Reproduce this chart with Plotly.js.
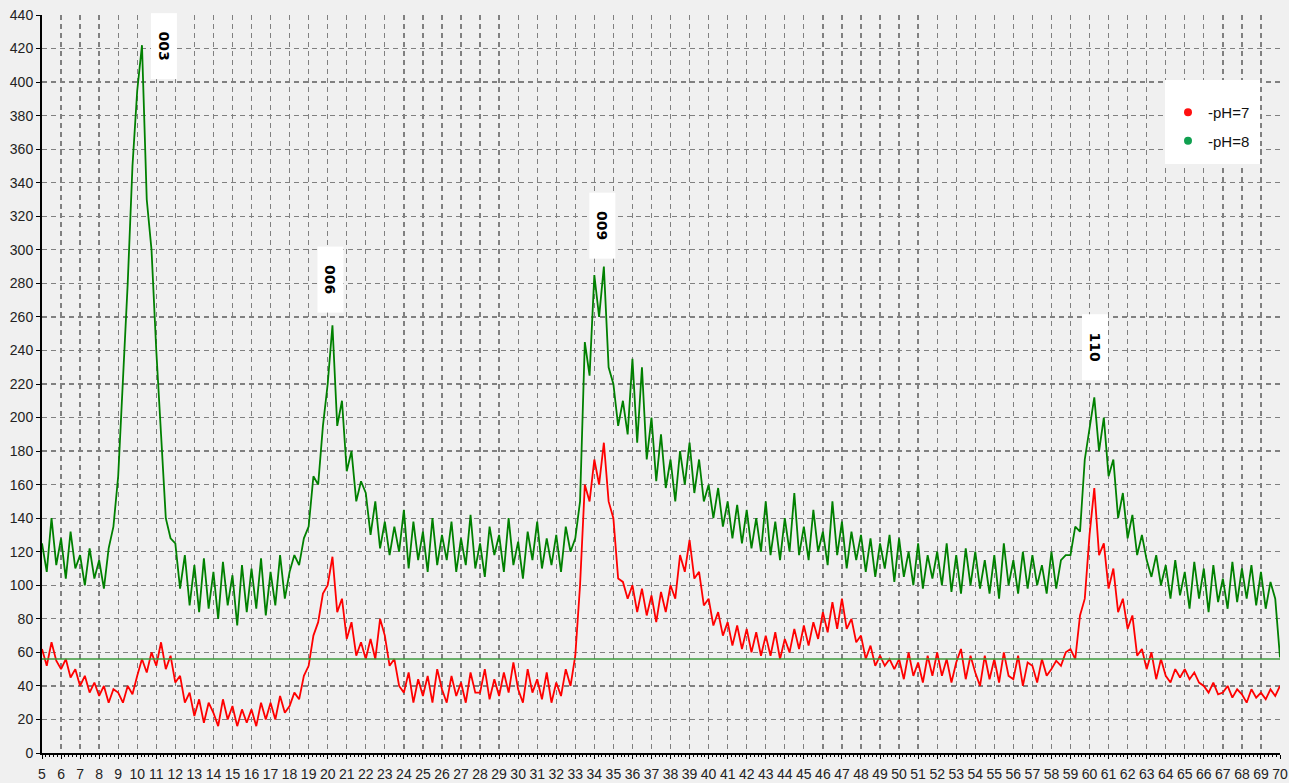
<!DOCTYPE html>
<html>
<head>
<meta charset="utf-8">
<script src="https://cdn.plot.ly/plotly-3.0.1.min.js"></script>
<style>html,body{margin:0;padding:0;background:#fff;}#chart{width:1289px;height:783px;}</style>
</head>
<body>
<div id="chart"></div>
<script>
// 2-theta sampling: 5.00 .. 70.00 in 0.25 degree steps
const thetaStart = 5, thetaStep = 0.25;

// pH=8 intensities (green)
const pH8 = [
125,108,140,112, 128,104,132,110, 118,100,122,104, 115,98,122,135,
165,220,280,350, 395,422,330,300, 240,190,140,128, 125,98,118,88,
112,84,116,86, 108,80,114,88, 106,76,112,84, 110,86,116,82,
108,88,118,92, 108,118,112,128, 135,165,160,195, 220,255,195,210,
168,180,150,162, 155,130,150,122, 138,118,135,120, 145,110,138,115,
132,108,140,112, 130,115,138,108, 128,112,142,110, 125,105,135,118,
130,108,140,112, 126,104,132,115, 138,110,128,112, 130,108,135,120,
128,150,245,225, 285,260,290,230, 220,195,210,190, 235,185,230,175,
200,162,190,158, 175,150,180,160, 185,155,175,150, 160,140,158,135,
150,128,148,125, 145,122,140,120, 150,118,138,115, 140,120,155,118,
135,115,145,120, 132,112,150,118, 138,110,132,115, 130,108,128,105,
125,110,130,102, 128,105,120,100, 125,98,118,104, 120,100,125,96,
118,95,122,100, 120,98,115,95, 118,92,125,100, 115,95,120,98,
118,100,112,95, 120,98,115,118, 118,135,132,175, 195,212,180,200,
165,175,140,155, 128,142,118,130, 115,105,118,100, 112,92,115,94,
108,86,114,92, 110,84,112,90, 104,86,114,90, 110,92,112,88,
108,86,102,92,
57
];

// pH=7 intensities (red)
const pH7 = [
62,52,66,55, 50,56,45,50, 40,46,36,42, 34,40,30,38,
36,30,40,35, 46,56,48,60, 52,66,50,58, 42,46,30,36,
22,32,18,30, 24,16,32,20, 28,16,26,18, 26,16,30,20,
30,20,34,24, 28,36,32,46, 52,70,78,95, 100,117,84,92,
68,78,58,66, 56,68,56,80, 70,52,56,40, 36,48,30,44,
34,46,30,50, 38,30,46,34, 42,30,48,36, 36,50,32,44,
34,48,36,54, 38,30,50,36, 44,32,48,30, 42,34,50,40,
58,100,160,150, 175,160,185,150, 140,104,102,92, 100,84,98,82,
94,78,96,84, 100,92,118,108, 127,104,108,88, 92,76,84,70,
78,64,76,62, 74,60,72,58, 70,58,72,56, 68,60,74,62,
76,64,78,68, 84,72,90,74, 92,74,80,66, 70,56,64,52,
58,52,56,50, 56,44,60,46, 54,42,58,46, 60,46,56,42,
54,62,44,58, 48,40,58,44, 56,42,60,46, 44,58,40,54,
52,42,56,46, 50,55,52,60, 62,56,82,92, 130,158,118,125,
98,110,84,92, 74,82,58,62, 50,60,44,56, 46,42,50,45,
50,44,48,42, 40,36,42,35, 36,40,33,38, 35,30,38,33,
36,32,38,34,
40
];

const baselineLevel = 56;

const xTickVals = [];
for (let v = 5; v <= 70; v++) xTickVals.push(v);

const peakLabels = ['003', '006', '009', '110'];
const peakX = [11.4, 20.17, 34.42, 60.28];
const peakY = [421.5, 282.3, 314.2, 242];

const seriesNames = ['-pH=7', '-pH=8'];

const theta = pH8.map((_, i) => thetaStart + i * thetaStep);

const traces = [
  {x: theta, y: pH8, type: 'scatter', mode: 'lines', line: {color: '#008000', width: 1.8}, showlegend: false},
  {x: theta, y: pH7, type: 'scatter', mode: 'lines', line: {color: '#ff0000', width: 1.8}, showlegend: false},
  {x: [null], y: [null], type: 'scatter', mode: 'markers', name: seriesNames[0], legendgroup: 'a', marker: {color: '#ff1010', size: 8}},
  {x: [null], y: [null], type: 'scatter', mode: 'markers', name: seriesNames[1], legendgroup: 'b', marker: {color: '#10a050', size: 8}}
];

const gridStyle = {
  showgrid: true, gridcolor: '#808080', gridwidth: 1.3, griddash: '5px,4px',
  zeroline: false, showline: true, linecolor: '#000', linewidth: 2,
  ticks: 'outside', ticklen: 4, tickcolor: '#000',
  tickfont: {family: 'Liberation Sans, Arial, sans-serif', size: 14, color: '#222'}
};

const annotations = peakLabels.map((t, i) => ({
  x: peakX[i], y: peakY[i], xref: 'x', yref: 'y',
  text: '<b>' + t + '</b>', showarrow: false, textangle: 90,
  font: {family: 'DejaVu Sans, sans-serif', size: 14, color: '#000'},
  bgcolor: '#ffffff', width: 62, height: 22, borderpad: 2, borderwidth: 0,
  align: 'center', valign: 'middle'
}));

const W = 1238, H = 738; // plot area px
const layout = {
  width: 1289, height: 783,
  margin: {l: 42, r: 9, t: 15, b: 30, pad: 0},
  paper_bgcolor: '#f0f0f0', plot_bgcolor: '#f0f0f0',
  xaxis: Object.assign({}, gridStyle, {
    range: [5, 70], tickmode: 'array', tickvals: xTickVals, ticktext: xTickVals.map(String),
    ticklabelstandoff: 3,
    minor: {dtick: 0.2, tick0: 5, ticks: 'outside', ticklen: 2, tickcolor: '#000', showgrid: false}
  }),
  yaxis: Object.assign({}, gridStyle, {range: [0, 440], dtick: 20, tick0: 0, ticklabelstandoff: 0}),
  showlegend: true,
  legend: {
    x: (1168 - 42) / W, y: (753 - 96) / H, xanchor: 'left', yanchor: 'top',
    bgcolor: 'rgba(0,0,0,0)', borderwidth: 0, tracegroupgap: 6, itemwidth: 30,
    font: {family: 'Liberation Sans, Arial, sans-serif', size: 15, color: '#111'}
  },
  annotations: annotations,
  shapes: [
    {type: 'line', xref: 'x', yref: 'y', x0: 5, x1: 70, y0: baselineLevel, y1: baselineLevel,
     line: {color: '#3c9a3c', width: 1.5}, layer: 'above'},
    {type: 'rect', xref: 'paper', yref: 'paper',
     x0: (1165 - 42) / W, x1: (1260 - 42) / W, y0: (753 - 164) / H, y1: (753 - 80) / H,
     fillcolor: '#ffffff', line: {width: 0}, layer: 'above'}
  ],
  hovermode: false
};

Plotly.newPlot('chart', traces, layout, {displayModeBar: false, staticPlot: true});
</script>
</body>
</html>
